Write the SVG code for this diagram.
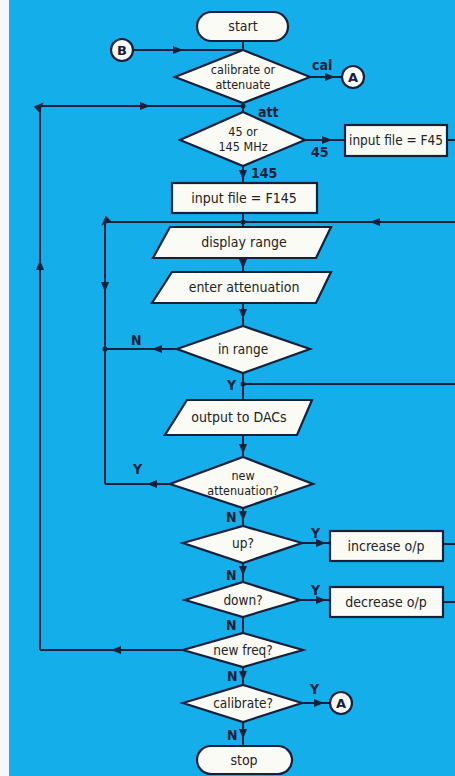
<svg xmlns="http://www.w3.org/2000/svg" width="455" height="776" viewBox="0 0 455 776">
<defs>
<style>
.bg{fill:#14aeea}
.n{fill:#fbfbf6;stroke:#15213a;stroke-width:2.2}
.c{fill:none;stroke:#15213a;stroke-width:2}
.t{font-family:"DejaVu Sans Condensed","DejaVu Sans",sans-serif;font-size:14px;fill:#222;text-anchor:middle}
.td{font-family:"DejaVu Sans Condensed","DejaVu Sans",sans-serif;font-size:13.5px;fill:#222;text-anchor:middle}
.t2{font-family:"DejaVu Sans Condensed","DejaVu Sans",sans-serif;font-size:12.5px;fill:#222;text-anchor:middle}
.l{font-family:"DejaVu Sans Condensed","DejaVu Sans",sans-serif;font-size:14px;font-weight:bold;fill:#15213a}
.cn{font-family:"DejaVu Sans","Liberation Sans",sans-serif;font-size:13px;font-weight:bold;fill:#15213a;text-anchor:middle}
.dot{fill:#15213a}
</style>
<marker id="a" viewBox="0 0 10 8" refX="5" refY="4" markerWidth="10" markerHeight="8" markerUnits="userSpaceOnUse" orient="auto">
<path d="M0,0 L10,4 L0,8 z" fill="#15213a"/>
</marker>
</defs>
<rect x="0" y="0" width="455" height="776" fill="#f4f8fa"/>
<rect class="bg" x="9" y="0" width="446" height="776"/>

<g id="connectors">
<path class="c" d="M243,41 L243,50"/>
<path class="c" d="M133,50 L178,50 L243,50" marker-mid="url(#a)"/>
<path class="c" d="M310,77 L330,77 L342,77" marker-mid="url(#a)"/>
<path class="c" d="M40,650 L40,265 L40,106 L145,106 L243,106" marker-mid="url(#a)"/>
<path class="c" d="M243,103 L243,112"/>
<path class="c" d="M305,140 L327,140 L345,140" marker-mid="url(#a)"/>
<path class="c" d="M243,166 L243,175 L243,183" marker-mid="url(#a)"/>
<path class="c" d="M447,140 L455,140"/>
<path class="c" d="M243,213 L243,222"/>
<path class="c" d="M455,222 L375,222 L105,222 L105,287 L105,484" marker-mid="url(#a)"/>
<path class="c" d="M243,222 L243,227"/>
<path class="c" d="M243,258 L243,264 L243,272" marker-mid="url(#a)"/>
<path class="c" d="M243,303 L243,314 L243,326" marker-mid="url(#a)"/>
<path class="c" d="M177,349 L157,349 L105,349" marker-mid="url(#a)"/>
<path class="c" d="M243,373 L243,400"/>
<path class="c" d="M243,384 L455,384"/>
<path class="c" d="M243,435 L243,449 L243,457" marker-mid="url(#a)"/>
<path class="c" d="M170,484 L152,484 L105,484" marker-mid="url(#a)"/>
<path class="c" d="M243,508 L243,516 L243,526" marker-mid="url(#a)"/>
<path class="c" d="M302,543 L321,543 L330,543" marker-mid="url(#a)"/>
<path class="c" d="M443,544 L455,544"/>
<path class="c" d="M243,563 L243,571 L243,582" marker-mid="url(#a)"/>
<path class="c" d="M300,600 L321,600 L330,600" marker-mid="url(#a)"/>
<path class="c" d="M443,602 L455,602"/>
<path class="c" d="M243,617 L243,633"/>
<path class="c" d="M183,650 L116,650 L40,650" marker-mid="url(#a)"/>
<path class="c" d="M243,667 L243,676 L243,685" marker-mid="url(#a)"/>
<path class="c" d="M302,703 L319,703 L330,703" marker-mid="url(#a)"/>
<path class="c" d="M243,722 L243,734 L243,746" marker-mid="url(#a)"/>
<circle class="dot" cx="243" cy="106" r="2.5"/>
<circle class="dot" cx="243" cy="222" r="2.5"/>
<circle class="dot" cx="105" cy="349" r="2.5"/>
<circle class="dot" cx="243" cy="384" r="2.5"/>
<text class="l" x="312" y="70">cal</text>
<text class="l" x="258" y="117">att</text>
<text class="l" x="311" y="157">45</text>
<text class="l" x="251" y="178">145</text>
<text class="l" x="131" y="345">N</text>
<text class="l" x="227" y="390">Y</text>
<text class="l" x="133" y="474">Y</text>
<text class="l" x="226" y="522">N</text>
<text class="l" x="311" y="538">Y</text>
<text class="l" x="226" y="580">N</text>
<text class="l" x="311" y="595">Y</text>
<text class="l" x="226" y="630">N</text>
<text class="l" x="227" y="681">N</text>
<text class="l" x="310" y="694">Y</text>
<text class="l" x="227" y="740">N</text>
</g>

<g id="start"><rect class="n" x="197" y="12" width="91" height="29" rx="14.5"/><text class="t" x="243" y="31">start</text></g>
<g id="connB"><circle class="n" cx="122" cy="50" r="11"/><text class="cn" x="122" y="55">B</text></g>
<g id="calOrAtt"><polygon class="n" points="243,50 310,77 243,103 175,77"/><text class="t2" x="243" y="74">calibrate or</text><text class="t2" x="243" y="89">attenuate</text></g>
<g id="connA1"><circle class="n" cx="353" cy="77" r="11"/><text class="cn" x="353" y="82">A</text></g>
<g id="freq"><polygon class="n" points="243,112 305,140 243,166 180,140"/><text class="t2" x="243" y="136">45 or</text><text class="t2" x="243" y="151">145 MHz</text></g>
<g id="f45"><rect class="n" x="345" y="125" width="102" height="31"/><text class="td" x="396" y="145">input file = F45</text></g>
<g id="f145"><rect class="n" x="172" y="183" width="145" height="30"/><text class="t" x="244" y="203">input file = F145</text></g>
<g id="display"><polygon class="n" points="170,227 331,227 316,258 153,258"/><text class="t" x="244" y="247">display range</text></g>
<g id="enter"><polygon class="n" points="172,272 331,272 316,303 152,303"/><text class="t" x="244" y="292">enter attenuation</text></g>
<g id="inrange"><polygon class="n" points="243,326 310,349 243,373 177,349"/><text class="td" x="243" y="354">in range</text></g>
<g id="dacs"><polygon class="n" points="187,400 312,400 297,435 165,435"/><text class="t" x="239" y="422">output to DACs</text></g>
<g id="newatt"><polygon class="n" points="243,457 313,484 243,508 170,484"/><text class="t2" x="243" y="480">new</text><text class="t2" x="243" y="495">attenuation?</text></g>
<g id="up"><polygon class="n" points="243,526 302,543 243,563 183,543"/><text class="td" x="243" y="548">up?</text></g>
<g id="inc"><rect class="n" x="330" y="531" width="113" height="30"/><text class="t" x="386" y="551">increase o/p</text></g>
<g id="down"><polygon class="n" points="243,582 300,600 243,617 185,600"/><text class="td" x="243" y="605">down?</text></g>
<g id="dec"><rect class="n" x="330" y="587" width="113" height="30"/><text class="t" x="386" y="607">decrease o/p</text></g>
<g id="newfreq"><polygon class="n" points="243,633 303,650 243,667 183,650"/><text class="td" x="243" y="655">new freq?</text></g>
<g id="calib"><polygon class="n" points="243,685 302,703 243,722 183,703"/><text class="td" x="243" y="708">calibrate?</text></g>
<g id="connA2"><circle class="n" cx="341" cy="703" r="11"/><text class="cn" x="341" y="708">A</text></g>
<g id="stop"><rect class="n" x="197" y="746" width="95" height="28" rx="14"/><text class="t" x="244" y="765">stop</text></g>
</svg>
